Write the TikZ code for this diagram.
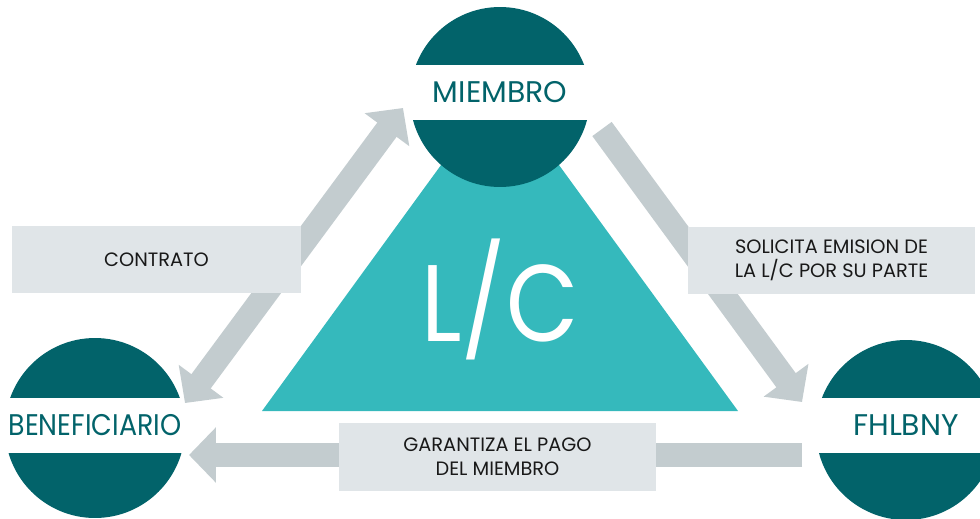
\documentclass[tikz,border=0pt]{standalone}
\usepackage{fontspec}
\setmainfont{Poppins}
\usetikzlibrary{arrows.meta}
\definecolor{tealdark}{HTML}{02636A}
\definecolor{teallight}{HTML}{35B9BC}
\definecolor{flechagris}{HTML}{C3CCCF}
\definecolor{cajagris}{HTML}{E0E5E8}
\tikzset{
	circulo/.style={circle, fill=tealdark, minimum size=3.6cm, inner sep=0pt},
	banda/.style={fill=white, text=tealdark, minimum width=3.6cm, minimum height=1.1cm, inner sep=0pt, font=\fontsize{17}{17}\selectfont},
	caja/.style={fill=cajagris, text=black!90, align=center, inner sep=0pt, font=\fontsize{11}{13.5}\selectfont},
	punta/.tip={Triangle[length=0.54cm, width=1.08cm]},
	flecha/.style={draw=flechagris, line width=0.48cm, -punta},
	flechados/.style={draw=flechagris, line width=0.48cm, punta-punta}
}

\begin{document}
\begin{tikzpicture}[x=0.02cm, y=-0.02cm]
			%%%%% START %%%%%
			\useasboundingbox (0, 0) rectangle (980, 518);
			\clip (0, 0) rectangle (980, 518);
			
			\fill[teallight] (262, 411) -- (738, 411) -- (500, 84) -- cycle;
			\node[text=white, font=\fontsize{62}{62}\selectfont] (lc) at (500, 299) {\scalebox{0.86}[1]{L/C}};
			
			\node[circulo] (miembro) at (500, 97) {};
			\node[circulo] (benef) at (95, 428) {};
			\node[circulo] (fhlbny) at (906, 430) {};
			
			\node[banda] (miembro-t) at (500, 92.5) {MIEMBRO};
			\node[banda] (benef-t) at (95, 425.5) {\scalebox{0.9}[1]{BENEFICIARIO}};
			\node[banda] (fhlbny-t) at (906, 425.5) {FHLBNY};
			
			\coordinate (a1) at (185, 403);
			\coordinate (b1) at (403, 108);
			\coordinate (a2) at (602, 129);
			\coordinate (b2) at (802, 402);
			\coordinate (a3) at (802, 455);
			\coordinate (b3) at (189, 455);
			
			\draw[flechados] (a1) -- (b1);
			\draw[flecha] (a2) -- (b2);
			\draw[flecha] (a3) -- (b3);
			
			\node[caja, minimum width=5.78cm, minimum height=1.34cm] (contrato) at (156.5, 259.5) {CONTRATO};
			\node[caja, minimum width=5.74cm, minimum height=1.34cm] (solicita) at (831.5, 260.5) {SOLICITA EMISION DE\\LA L/C POR SU PARTE};
			\node[caja, minimum width=6.34cm, minimum height=1.36cm] (garantiza) at (497.5, 457) {GARANTIZA EL PAGO\\DEL MIEMBRO};
			%%%%% END %%%%%
\end{tikzpicture}
\end{document}
